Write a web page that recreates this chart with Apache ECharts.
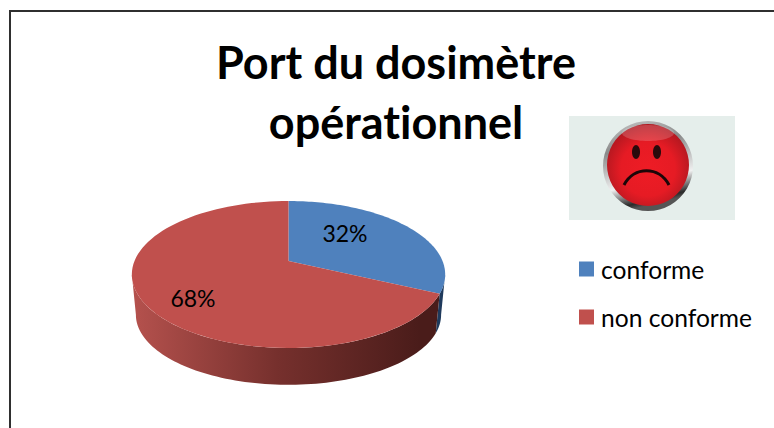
<!DOCTYPE html>
<html><head><meta charset="utf-8">
<style>html,body{margin:0;padding:0;background:#fff}#c{width:774px;height:428px}#c text{font-variant-ligatures:none}</style>
<script src="https://cdn.jsdelivr.net/npm/echarts@6/dist/echarts.min.js"></script>
</head><body><div id="c"></div>
<script>
const chartTitle = 'Port du dosimètre\nopérationnel';
const categories = ['conforme', 'non conforme'];
const shares = [32, 68];

const colors = ['#4f81bd', '#c0504d'];
const labelAt = [[345, 233], [193, 298]];
const FONT = 'Lato, Carlito, "Open Sans", sans-serif';
const total = shares[0] + shares[1];

// Projective view of a tilted disc: keeps the off-centre apex of the 3D pie.
const K = 0.1837;
const top_ = { x: 288.5, y: 261, a: 71, b: 154 };
const low = { x: 288.5, y: 302, a: 67.6, b: 150 };
function proj(r, t) {
  const u = Math.sin(t), v = Math.cos(t), d = 1 + K * v;
  return [r.x + r.b * u / d, r.y - r.a * v / d];
}
function arc(r, t0, t1) {
  const out = [], n = 90;
  for (let i = 0; i <= n; i++) out.push(proj(r, t0 + (t1 - t0) * i / n));
  return out;
}
const RIGHT = Math.PI * 2 * 0.279, LEFT = Math.PI * 2 * 0.721;

function sliceRenderer(si) {
  return function (params, api) {
    const value = api.value(0);
    let before = 0;
    for (let i = 0; i < si; i++) before += shares[i];
    const t0 = before / total * Math.PI * 2;
    const t1 = (before + value) / total * Math.PI * 2;
    const wa = Math.max(t0, RIGHT), wb = Math.min(t1, LEFT);
    const children = [];
    if (wb > wa) {
      const wallFill = si === 0 ? '#1f3a5c' : {
        type: 'linear', global: true, x: 135, y: 0, x2: 420, y2: 0,
        colorStops: [
          { offset: 0, color: '#b4514d' },
          { offset: 0.5, color: '#76302d' },
          { offset: 1, color: '#4a1c1a' }
        ]
      };
      children.push({
        type: 'polygon',
        shape: { points: arc(top_, wa, wb).concat(arc(low, wa, wb).reverse()) },
        style: { fill: wallFill }
      });
    }
    children.push({
      type: 'polygon',
      shape: { points: [[top_.x, top_.y]].concat(arc(top_, t0, t1)) },
      style: { fill: colors[si] }
    });
    children.push({
      type: 'text',
      style: {
        x: labelAt[si][0], y: labelAt[si][1],
        text: Math.round(value / total * 100) + '%',
        font: '23px ' + FONT, fill: '#000',
        textAlign: 'center', textVerticalAlign: 'middle'
      }
    });
    return { type: 'group', children: children };
  };
}

const chart = echarts.init(document.getElementById('c'), null, { renderer: 'svg' });
chart.setOption({
  animation: false,
  backgroundColor: '#fff',
  title: {
    text: chartTitle, left: 391, top: 27, textAlign: 'center',
    textStyle: { fontFamily: FONT, fontSize: 45, fontWeight: 'bold', color: '#000', lineHeight: 60 }
  },
  legend: {
    orient: 'vertical', left: 574, top: 250, itemWidth: 15, itemHeight: 15, itemGap: 20,
    icon: 'rect', selectedMode: false,
    textStyle: { fontFamily: FONT, fontSize: 24.6, color: '#000', padding: [0, 0, 2, 2], lineHeight: 26 },
    data: categories
  },
  series: categories.map((name, i) => ({
    type: 'custom', name: name, coordinateSystem: 'none',
    renderItem: sliceRenderer(i), silent: true,
    itemStyle: { color: colors[i] },
    data: [[shares[i]]],
    encode: { value: 0 }
  })),
  graphic: [
    { type: 'polyline', shape: { points: [[10, 440], [10, 11], [790, 11]] }, style: { stroke: '#2f2f2f', lineWidth: 2, fill: null } },
    { type: 'rect', shape: { x: 569, y: 116, width: 166, height: 104 }, style: { fill: '#e5eeeb' } },
    { type: 'circle', shape: { cx: 648, cy: 166, r: 45 }, style: { fill: {
      type: 'linear', x: 0, y: 0, x2: 0.25, y2: 1,
      colorStops: [
        { offset: 0, color: '#c9c9c9' }, { offset: 0.35, color: '#8a8a8a' },
        { offset: 0.75, color: '#f0f0f0' }, { offset: 0.95, color: '#2a2a2a' }, { offset: 1, color: '#555' }
      ] } } },
    { type: 'circle', shape: { cx: 648, cy: 165, r: 41 }, style: { fill: {
      type: 'radial', x: 0.5, y: 0.55, r: 0.55,
      colorStops: [
        { offset: 0, color: '#ee1c25' }, { offset: 0.6, color: '#e61b24' }, { offset: 1, color: '#b01820' }
      ] } } },
    { type: 'ellipse', shape: { cx: 648, cy: 133, rx: 26, ry: 8 }, style: { fill: '#ffffff', opacity: 0.18 } },
    { type: 'ellipse', shape: { cx: 636, cy: 152, rx: 4, ry: 7 }, style: { fill: '#2a0a0c' } },
    { type: 'ellipse', shape: { cx: 657, cy: 152, rx: 4, ry: 7 }, style: { fill: '#2a0a0c' } },
    { type: 'bezierCurve', shape: { x1: 624, y1: 185, x2: 669, y2: 185, cpx1: 634, cpy1: 166, cpx2: 659, cpy2: 166 },
      style: { stroke: '#1c0608', lineWidth: 3, fill: null } }
  ]
});
</script></body></html>
